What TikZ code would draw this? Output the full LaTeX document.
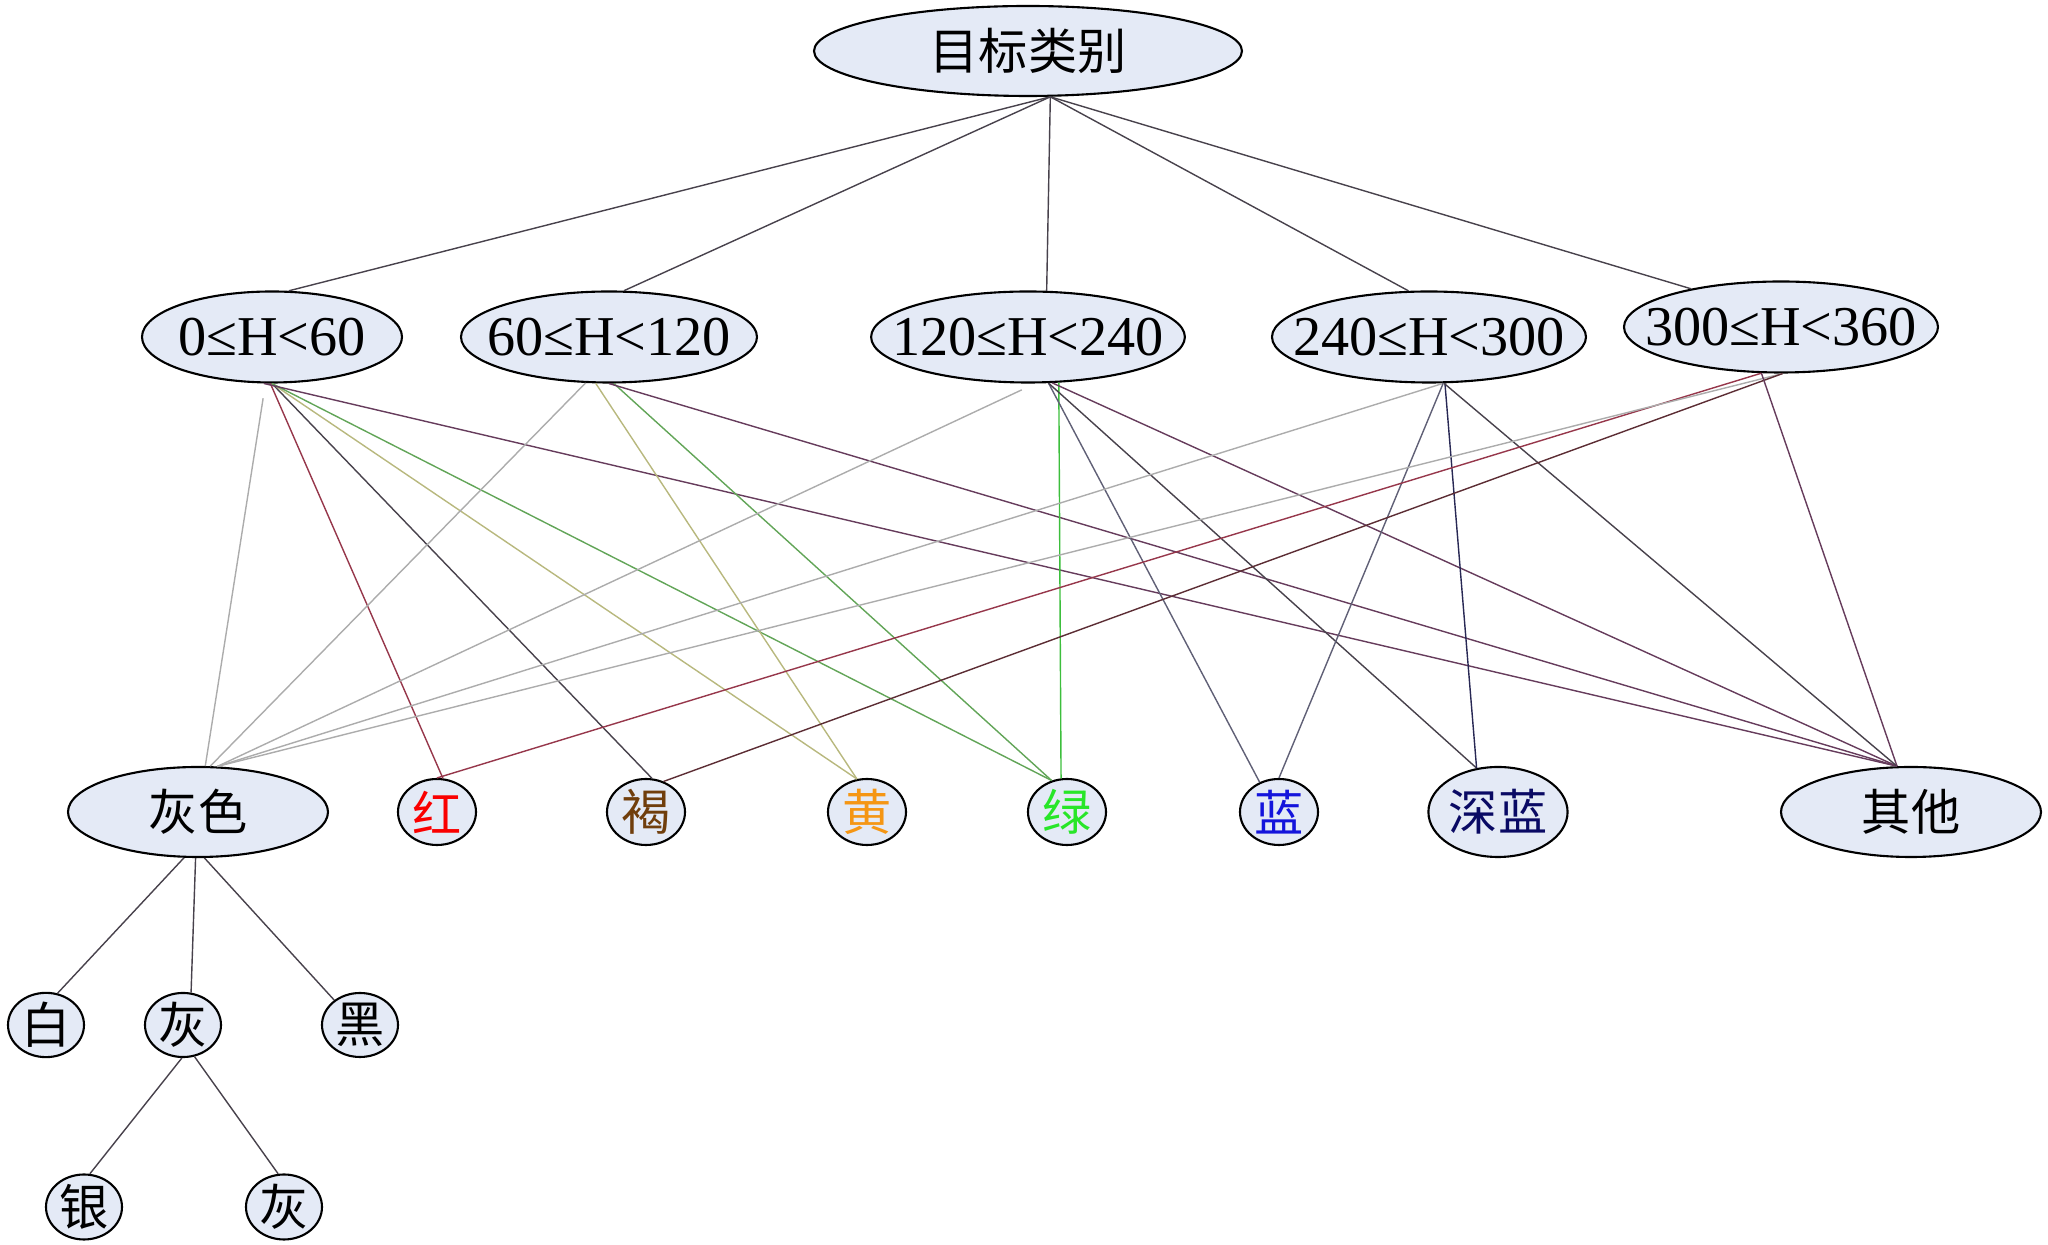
\documentclass[tikz,border=0pt]{standalone}
\usepackage{fontspec}
\setmainfont{Liberation Serif}
\newfontfamily\cjk{Noto Sans CJK SC}
\usetikzlibrary{shapes.geometric}
\definecolor{nodefill}{RGB}{228,234,246}
\definecolor{lgray}{RGB}{172,172,172}
\definecolor{dkgray}{RGB}{72,66,76}
\definecolor{maroon}{RGB}{150,55,75}
\definecolor{olive}{RGB}{184,184,126}
\definecolor{lgreen}{RGB}{98,165,88}
\definecolor{bgreen}{RGB}{60,190,60}
\definecolor{plum}{RGB}{102,60,92}
\definecolor{slate}{RGB}{96,96,118}
\definecolor{navyline}{RGB}{40,40,84}
\definecolor{brownline}{RGB}{92,45,52}
\definecolor{txtred}{RGB}{250,0,0}
\definecolor{txtbrown}{RGB}{112,62,12}
\definecolor{txtyellow}{RGB}{245,150,20}
\definecolor{txtgreen}{RGB}{40,230,40}
\definecolor{txtblue}{RGB}{20,20,220}
\definecolor{txtnavy}{RGB}{10,10,100}

\begin{document}
\begin{tikzpicture}[
  ell/.style={draw, ellipse, fill=nodefill, inner sep=0pt, line width=0.6pt},
  cat/.style={ell, minimum height=9mm, font=\cjk\fontsize{14}{16}\selectfont},
  hue/.style={ell, inner xsep=-2.5mm, minimum height=9.1mm, font=\fontsize{16}{18}\selectfont},
  leaf/.style={ell, minimum width=7.8mm, minimum height=6.6mm, font=\cjk\fontsize{14}{16}\selectfont},
  link/.style={line width=0.4pt, draw=dkgray}
]
\useasboundingbox (0,0) rectangle (20.48,-12.45);
\node[cat, minimum width=42.8mm] (root) at (10.28,-0.51) {目标类别};
\node[hue, minimum width=26mm] (h0) at (2.72,-3.37) {0≤H<60};
\node[hue, minimum width=29.6mm] (h60) at (6.09,-3.37) {60≤H<120};
\node[hue, minimum width=30.6mm] (h120) at (10.28,-3.37) {120≤H<240};
\node[hue, minimum width=31.4mm] (h240) at (14.29,-3.37) {240≤H<300};
\node[hue, minimum width=31.4mm] (h300) at (17.81,-3.27) {300≤H<360};
\node[cat, minimum width=26mm] (gray) at (1.98,-8.12) {灰色};
\node[leaf, text=txtred] (red) at (4.37,-8.12) {红};
\node[leaf, text=txtbrown] (brown) at (6.46,-8.12) {褐};
\node[leaf, text=txtyellow] (yellow) at (8.67,-8.12) {黄};
\node[leaf, text=txtgreen] (green) at (10.67,-8.12) {绿};
\node[leaf, text=txtblue] (blue) at (12.79,-8.12) {蓝};
\node[cat, minimum width=13.6mm, text=txtnavy] (navy) at (14.98,-8.12) {深蓝};
\node[cat, minimum width=26mm] (other) at (19.11,-8.12) {其他};
\node[leaf, minimum width=7.6mm, minimum height=6.4mm] (white) at (0.46,-10.25) {白};
\node[leaf, minimum width=7.6mm, minimum height=6.4mm] (grey) at (1.83,-10.25) {灰};
\node[leaf, minimum width=7.6mm, minimum height=6.4mm] (black) at (3.60,-10.25) {黑};
\node[leaf, minimum width=7.6mm, minimum height=6.5mm] (silver) at (0.84,-12.07) {银};
\node[leaf, minimum width=7.6mm, minimum height=6.5mm] (grey2) at (2.84,-12.07) {灰};

\draw[link] (root.-64) -- (h0.70);
\draw[link] (root.-64) -- (h60.72);
\draw[link] (root.-64) -- (h120.68);
\draw[link] (root.-64) -- (h240.114);
\draw[link] (root.-64) -- (h300.157);

\draw[link, lgray, shorten <=1.5mm] (h0.-98) -- (gray.81);
\draw[link, maroon] (h0.-92) -- (red.80);
\draw[link] (h0.south) -- (brown.80);
\draw[link, olive] (h0.south) -- (yellow.107);
\draw[link, lgreen] (h0.south) -- (green.116);
\draw[link, plum] (h0.-100) -- (other.107);

\draw[link, lgray] (h60.-117) -- (gray.75);
\draw[link, olive] (h60.-106) -- (yellow.107);
\draw[link, lgreen] (h60.-84) -- (green.116);
\draw[link, plum] (h60.south) -- (other.107);

\draw[link, lgray, shorten <=1.5mm] (h120.-81) -- (gray.67);
\draw[link, bgreen] (h120.-56) -- (green.100);
\draw[link, slate] (h120.-66) -- (blue.123);
\draw[link] (h120.-66) -- (navy.116);
\draw[link, plum] (h120.-62) -- (other.107);

\draw[link, lgray] (h240.-73) -- (gray.67);
\draw[link, slate] (h240.-73) -- (blue.north);
\draw[link, navyline] (h240.-71) -- (navy.116);
\draw[link] (h240.-72) -- (other.107);

\draw[link, maroon] (h300.-113) -- (red.north);
\draw[link, lgray] (h300.-88) -- (gray.67);
\draw[link, brownline] (h300.-88) -- (brown.60);
\draw[link, plum] (h300.-113) -- (other.107);

\draw[link] (gray.-107) -- (white.70);
\draw[link] (gray.-93) -- (grey.76);
\draw[link] (gray.-82) -- (black.136);
\draw[link] (grey.-92) -- (silver.80);
\draw[link] (grey.-70) -- (grey2.100);
\end{tikzpicture}
\end{document}
